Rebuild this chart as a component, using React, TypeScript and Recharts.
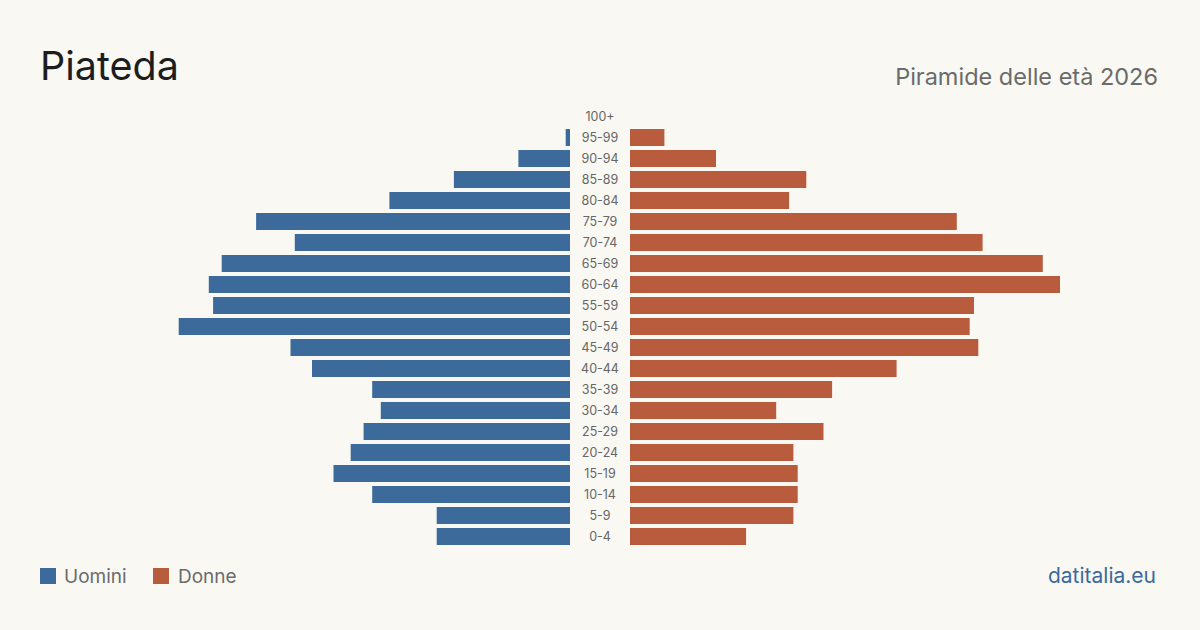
import React from "react";
import { BarChart, Bar, XAxis, YAxis } from "recharts";

// Age groups, top to bottom
const ageGroups = [
  "100+", "95-99", "90-94", "85-89", "80-84", "75-79", "70-74", "65-69", "60-64", "55-59",
  "50-54", "45-49", "40-44", "35-39", "30-34", "25-29", "20-24", "15-19", "10-14", "5-9", "0-4",
];

// Residents per age group
const men = [0, 1, 12, 27, 42, 73, 64, 81, 84, 83, 91, 65, 60, 46, 44, 48, 51, 55, 46, 31, 31];
const women = [0, 8, 20, 41, 37, 76, 82, 96, 100, 80, 79, 81, 62, 47, 34, 45, 38, 39, 39, 38, 27];

const rows = ageGroups.map((age, i) => ({ age, men: men[i], women: women[i] }));

const BLUE = "#3b6a9b";
const ORANGE = "#b95c3d";
const BG = "#f9f8f3";
const FONT = "Inter, 'Noto Sans', sans-serif";

const SIDE_W = 430;
const MAX = 100;
const TOP = 106;
const PLOT_H = 441;
const AXIS_W = 60;

const AgeTick = (props: any) => {
  const { y, payload } = props;
  return (
    <text x={AXIS_W / 2} y={y} dy={4} textAnchor="middle" fontSize={12.5} fill="#666" fontFamily={FONT}>
      {payload.value}
    </text>
  );
};

export default function App() {
  return (
    <div style={{ position: "absolute", left: 0, top: 0, width: 1200, height: 630, background: BG, overflow: "hidden", fontFamily: FONT }}>
      <svg width={1200} height={630} style={{ position: "absolute", left: 0, top: 0 }}>
        <text x={40} y={80} fontSize={39.5} fill="#1d1d1d" fontFamily={FONT}>Piateda</text>
        <text x={1158} y={85} fontSize={23.5} fill="#6b6b6b" textAnchor="end" fontFamily={FONT}>Piramide delle età 2026</text>
        <rect x={40} y={568} width={16} height={16} fill={BLUE} />
        <text x={64} y={583} fontSize={19} fill="#6b6b6b" fontFamily={FONT}>Uomini</text>
        <rect x={153} y={568} width={16} height={16} fill={ORANGE} />
        <text x={178} y={583} fontSize={19} fill="#6b6b6b" fontFamily={FONT}>Donne</text>
        <text x={1156} y={583} fontSize={21} fill={BLUE} textAnchor="end" fontFamily={FONT}>datitalia.eu</text>
      </svg>

      <div style={{ position: "absolute", left: 570 - SIDE_W, top: TOP }}>
        <BarChart width={SIDE_W} height={PLOT_H} data={rows} layout="vertical" margin={{ top: 0, right: 0, bottom: 0, left: 0 }} barCategoryGap={2}>
          <XAxis type="number" domain={[0, MAX]} reversed hide />
          <YAxis type="category" dataKey="age" hide />
          <Bar dataKey="men" fill={BLUE} barSize={17} isAnimationActive={false} />
        </BarChart>
      </div>

      <div style={{ position: "absolute", left: 570, top: TOP }}>
        <BarChart width={AXIS_W + SIDE_W} height={PLOT_H} data={rows} layout="vertical" margin={{ top: 0, right: 0, bottom: 0, left: 0 }} barCategoryGap={2}>
          <XAxis type="number" domain={[0, MAX]} hide />
          <YAxis type="category" dataKey="age" width={AXIS_W} axisLine={false} tickLine={false} tick={<AgeTick />} interval={0} />
          <Bar dataKey="women" fill={ORANGE} barSize={17} isAnimationActive={false} />
        </BarChart>
      </div>
    </div>
  );
}
